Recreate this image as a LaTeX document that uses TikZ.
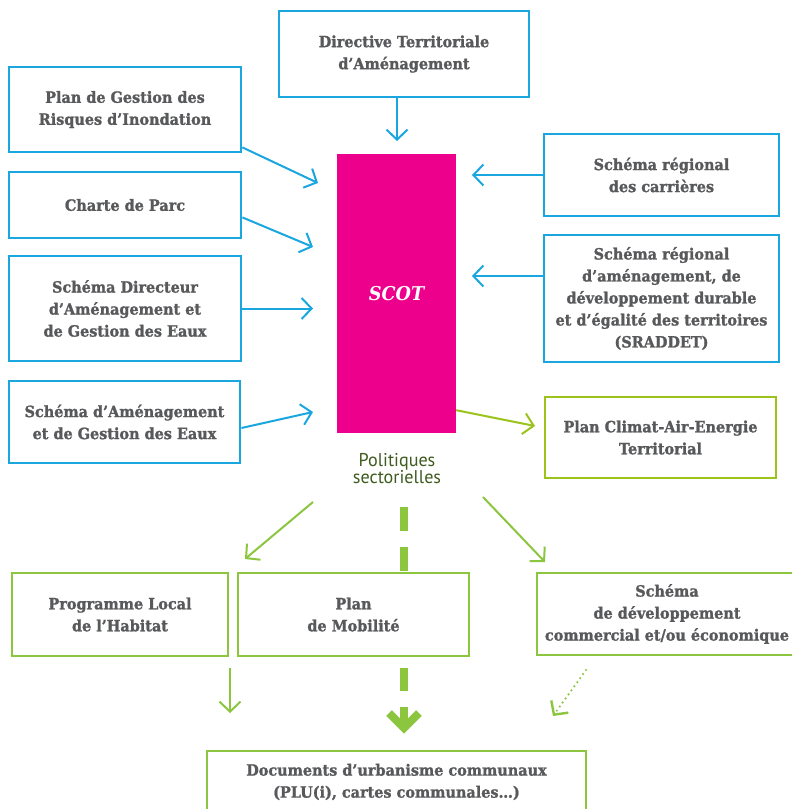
\documentclass[tikz,border=0pt]{standalone}
\usepackage{fontspec}
\setmainfont{DejaVu Serif}[FakeStretch=0.93, BoldFeatures={FakeBold=1.3}]
\newfontfamily\polfont{PT Sans}[FakeStretch=0.98]
\usetikzlibrary{arrows.meta}
\definecolor{cblue}{HTML}{1AA7E0}
\definecolor{cmag}{HTML}{EC008C}
\definecolor{cgreen}{HTML}{8CC63F}
\definecolor{cgreenb}{HTML}{9CC31C}
\definecolor{cgrey}{HTML}{58595B}
\definecolor{cpol}{HTML}{3F5B1E}
\tikzset{
  box/.style={draw, line width=2.8pt, inner sep=0pt, align=center, text=cgrey,
    font=\fontsize{15.5}{22}\selectfont\bfseries},
  bluebox/.style={box, draw=cblue},
  greenbox/.style={box, draw=cgreen},
  greenbbox/.style={box, draw=cgreenb},
  barrow/.style={draw=cblue, line width=2pt, -{Straight Barb[length=10pt,width=21pt,line width=2pt]}},
  garrow/.style={draw=cgreen, line width=2pt, -{Straight Barb[length=10pt,width=21pt,line width=2pt]}},
  gbarrow/.style={draw=cgreenb, line width=2pt, -{Straight Barb[length=10pt,width=21pt,line width=2pt]}},
  bigdash/.style={draw=cgreen, line width=8pt},
}
\begin{document}
\begin{tikzpicture}[x=1pt,y=-1pt]
\useasboundingbox (0,0) rectangle (792,809);
\fill[white] (0,0) rectangle (792,809);

\node[bluebox, minimum width=250pt, minimum height=86pt] (dta) at (404,54) {Directive Territoriale\\d’Aménagement};
\node[bluebox, minimum width=232pt, minimum height=85pt] (pgri) at (125,109.5) {Plan de Gestion des\\Risques d’Inondation};
\node[bluebox, minimum width=232pt, minimum height=66pt] (charte) at (125,205) {Charte de Parc};
\node[bluebox, minimum width=232pt, minimum height=105pt] (sdage) at (125,308.5) {Schéma Directeur\\d’Aménagement et\\de Gestion des Eaux};
\node[bluebox, minimum width=231pt, minimum height=82pt] (sage) at (124.5,422) {Schéma d’Aménagement\\et de Gestion des Eaux};
\node[bluebox, minimum width=235pt, minimum height=82pt] (carr) at (661.5,175) {Schéma régional\\des carrières};
\node[bluebox, minimum width=235pt, minimum height=127pt] (sraddet) at (661.5,298.5) {Schéma régional\\d’aménagement, de\\développement durable\\et d’égalité des territoires\\(SRADDET)};
\node[greenbbox, minimum width=231pt, minimum height=81pt] (pcaet) at (660.5,437.5) {Plan Climat-Air-Energie\\Territorial};

\node[fill=cmag, minimum width=119pt, minimum height=279pt, inner sep=0pt, text=white,
  font=\fontsize{19}{22}\selectfont\bfseries\itshape] (scot) at (396.5,293.5) {SCOT};

\node[align=center, text=cpol, font=\polfont\fontsize{18.5}{17}\selectfont] (pol) at (397,469) {Politiques\\sectorielles};

\node[greenbox, minimum width=216pt, minimum height=83pt] (plh) at (120,614.5) {Programme Local\\de l’Habitat};
\node[greenbox, minimum width=231pt, minimum height=83pt] (mob) at (353.5,614.5) {Plan\\de Mobilité};
\node[greenbox, minimum width=260pt, minimum height=82pt] (sdc) at (667,614) {Schéma\\de développement\\commercial et/ou économique};
\node[greenbox, minimum width=379pt, minimum height=62pt] (docs) at (396.5,782) {Documents d’urbanisme communaux\\(PLU(i), cartes communales…)};

% blue arrows to SCOT
\coordinate (e1) at (318,183);
\coordinate (e2) at (313,247);
\coordinate (e3) at (313,308.5);
\coordinate (e4) at (313,412);
\coordinate (e5) at (472,175);
\coordinate (e6) at (472,276);
\coordinate (e7) at (397,141);
\draw[barrow] ([xshift=-7pt]dta.south) -- (e7);
\draw[barrow] ([yshift=6pt]pgri.south east) -- (e1);
\draw[barrow] ([yshift=22pt]charte.south east) -- (e2);
\draw[barrow] (sdage.east) -- (e3);
\draw[barrow] ([yshift=-6pt]sage.east) -- (e4);
\draw[barrow] (carr.west) -- (e5);
\draw[barrow] ([yshift=22.5pt]sraddet.west) -- (e6);

% SCOT to PCAET
\coordinate (e8) at (535,426);
\draw[gbarrow] ([yshift=23pt]scot.south east) -- (e8);

% politiques sectorielles arrows
\coordinate (s1) at (313,502);
\coordinate (t1) at (245,559);
\coordinate (s2) at (483,497);
\coordinate (t2) at (545,562);
\draw[garrow] (s1) -- (t1);
\draw[garrow] (s2) -- (t2);

% big dashed central arrow
\coordinate (s3) at (404,507);
\draw[bigdash, dash pattern=on 24pt off 16pt] (s3) -- (mob.north -| s3);
\coordinate (s4) at (404,728);
\draw[bigdash, dash pattern=on 0pt off 11pt on 23pt off 17pt on 40pt] (mob.south -| s3) -- (s4);
\draw[bigdash] (404,707) -- (s4);
\draw[bigdash, miter limit=10] (389,713) -- (s4) -- (419,713);

% PLH arrow
\coordinate (s5) at (230,668);
\coordinate (t5) at (230,713);
\draw[garrow] (s5) -- (t5);

% dotted arrow
\coordinate (s6) at (586,670);
\coordinate (t6) at (553,716);
\draw[draw=cgreen, line width=2.4pt, line cap=round, dash pattern=on 0pt off 5pt,
  -{Straight Barb[length=10pt,width=21pt,line width=2.4pt]}] (s6) -- (t6);
\end{tikzpicture}
\end{document}
